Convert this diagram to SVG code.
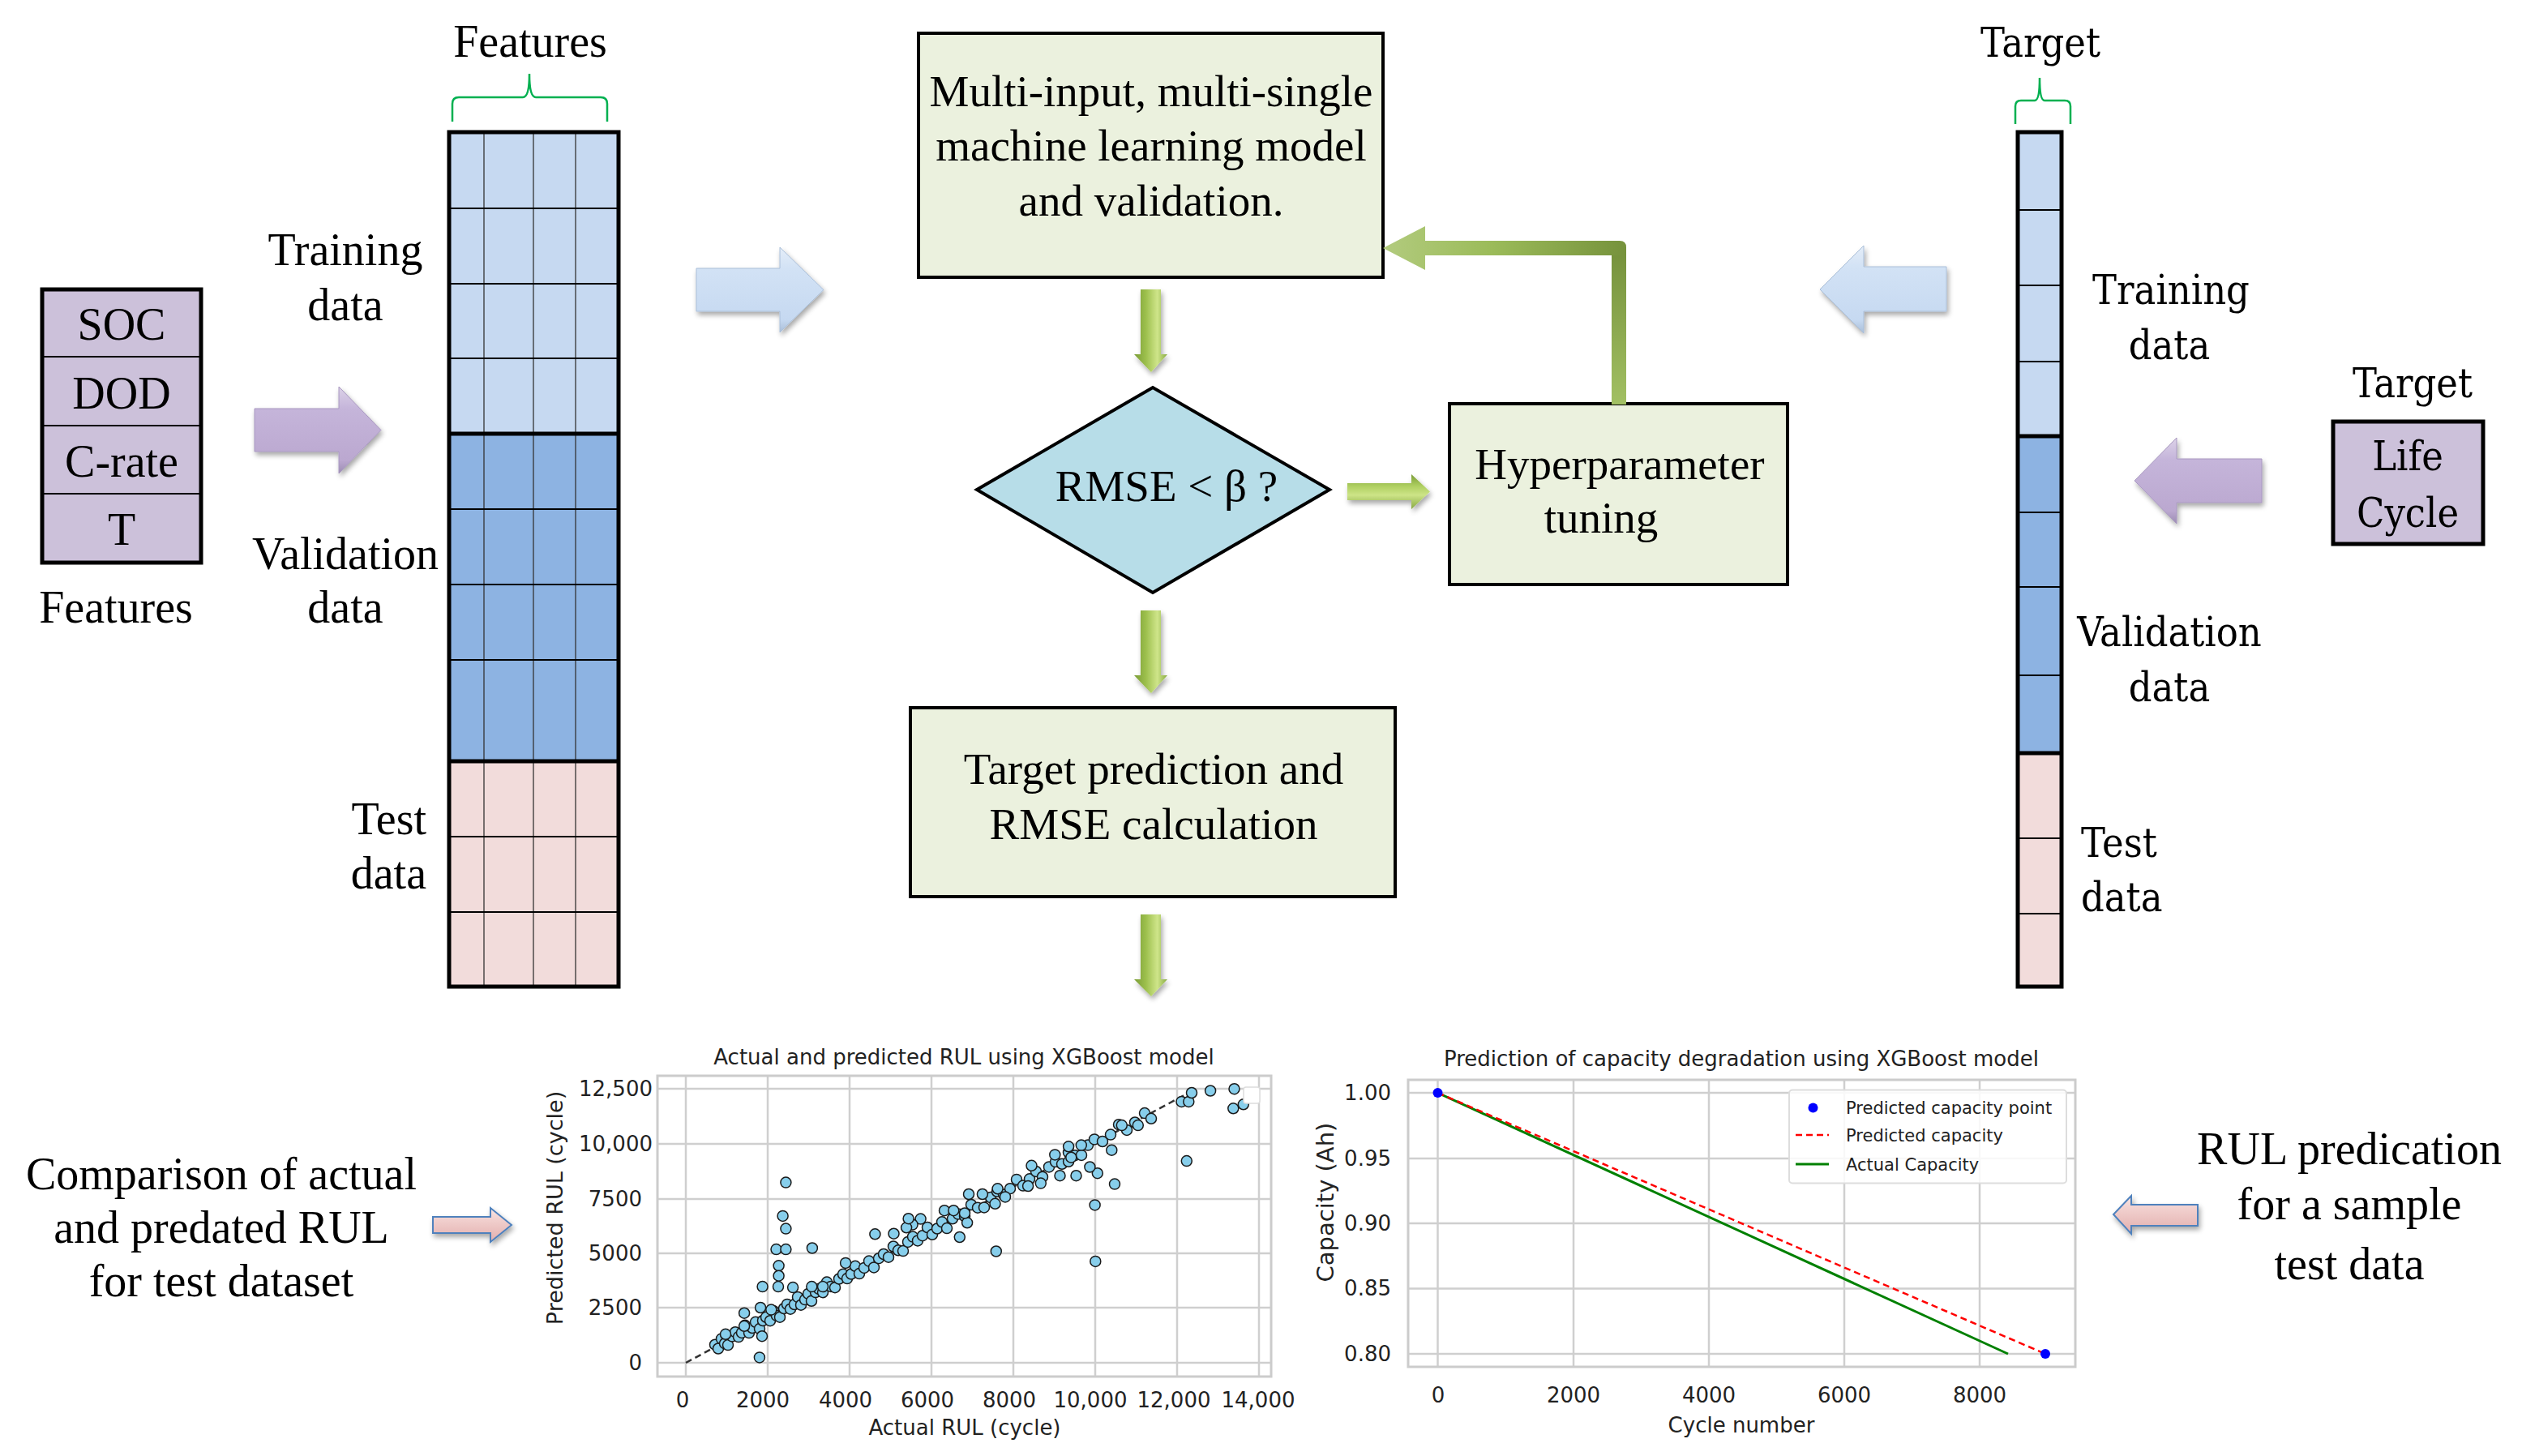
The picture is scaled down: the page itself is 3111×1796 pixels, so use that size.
<svg xmlns="http://www.w3.org/2000/svg" width="3111" height="1796" viewBox="0 0 3111 1796">
<style>
.tx{font-family:"Liberation Serif","Times New Roman",serif;font-size:56px;fill:#000;text-anchor:middle}
.bx{font-size:55px}
.rt{font-family:"DejaVu Serif",serif;font-stretch:condensed;font-size:50px;fill:#000;text-anchor:middle}
.ch{font-family:"DejaVu Sans",sans-serif;font-size:26px;fill:#222}
.mid{text-anchor:middle}
.end{text-anchor:end}
.box{fill:#EBF1DE;stroke:#000;stroke-width:4}
.pbox{fill:#CCC1DA;stroke:#000;stroke-width:5}
.thin{stroke:#000;stroke-width:2}
.col{stroke:#333;stroke-width:1.3}
.thick{stroke:#000;stroke-width:5}
.frame{fill:none;stroke:#000;stroke-width:5}
.grid{stroke:#CFCFCF;stroke-width:2.5}
.pt{fill:#87CEEB;stroke:#1A1A1A;stroke-width:1.5}
.brace{fill:none;stroke:#00B050;stroke-width:2.5}
</style>
<defs>
<linearGradient id="gV" x1="0" y1="0" x2="1" y2="0">
<stop offset="0" stop-color="#7A9C36"/><stop offset="0.35" stop-color="#9CBF4C"/><stop offset="0.7" stop-color="#CFE58A"/><stop offset="1" stop-color="#88AB42"/>
</linearGradient>
<linearGradient id="gH" x1="0" y1="0" x2="0" y2="1">
<stop offset="0" stop-color="#7A9C36"/><stop offset="0.35" stop-color="#B0D062"/><stop offset="0.6" stop-color="#CDE487"/><stop offset="1" stop-color="#86A842"/>
</linearGradient>
<linearGradient id="fbH" x1="0" y1="0" x2="1" y2="0">
<stop offset="0" stop-color="#B2CB7E"/><stop offset="0.45" stop-color="#9BBB59"/><stop offset="1" stop-color="#76923C"/>
</linearGradient>
<linearGradient id="fbV" x1="0" y1="0" x2="0" y2="1">
<stop offset="0" stop-color="#76923C"/><stop offset="1" stop-color="#A2C063"/>
</linearGradient>
<linearGradient id="blue3d" x1="0" y1="0" x2="0" y2="1">
<stop offset="0" stop-color="#E4EDF8"/><stop offset="0.25" stop-color="#D2E2F5"/><stop offset="0.85" stop-color="#C6D9F1"/><stop offset="1" stop-color="#A9BED8"/>
</linearGradient>
<linearGradient id="purp3d" x1="0" y1="0" x2="0" y2="1">
<stop offset="0" stop-color="#DCD2E8"/><stop offset="0.25" stop-color="#C5B5DA"/><stop offset="0.85" stop-color="#BBA8D0"/><stop offset="1" stop-color="#9C8CB3"/>
</linearGradient>
<linearGradient id="pink3d" x1="0" y1="0" x2="0" y2="1">
<stop offset="0" stop-color="#F8E6E5"/><stop offset="0.3" stop-color="#F2D2D0"/><stop offset="1" stop-color="#E2AEAD"/>
</linearGradient>
<filter id="sh" x="-20%" y="-20%" width="140%" height="150%">
<feGaussianBlur in="SourceAlpha" stdDeviation="3"/>
<feOffset dx="2" dy="4" result="b"/>
<feComponentTransfer><feFuncA type="linear" slope="0.35"/></feComponentTransfer>
<feMerge><feMergeNode/><feMergeNode in="SourceGraphic"/></feMerge>
</filter>
</defs>
<rect width="3111" height="1796" fill="#FFFFFF"/>

<g id="input-features">
<rect class="pbox" x="52" y="357" width="196" height="337"/>
<line class="thin" x1="54" y1="440" x2="246" y2="440"/>
<line class="thin" x1="54" y1="525" x2="246" y2="525"/>
<line class="thin" x1="54" y1="609" x2="246" y2="609"/>
<text class="tx" x="150" y="419">SOC</text>
<text class="tx" x="150" y="504">DOD</text>
<text class="tx" x="150" y="588">C-rate</text>
<text class="tx" x="150" y="672">T</text>
<text class="tx" x="143" y="768">Features</text>
</g>

<g id="features-matrix">
<rect x="554" y="163" width="209" height="372" fill="#C6D9F1"/>
<rect x="554" y="535" width="209" height="404" fill="#8DB3E2"/>
<rect x="554" y="939" width="209" height="278" fill="#F2DCDB"/>
<line class="col" x1="597" y1="163" x2="597" y2="1217"/>
<line class="col" x1="658" y1="163" x2="658" y2="1217"/>
<line class="col" x1="710" y1="163" x2="710" y2="1217"/>
<line class="thin" x1="554" y1="257" x2="763" y2="257"/>
<line class="thin" x1="554" y1="350" x2="763" y2="350"/>
<line class="thin" x1="554" y1="442" x2="763" y2="442"/>
<line class="thin" x1="554" y1="628" x2="763" y2="628"/>
<line class="thin" x1="554" y1="721" x2="763" y2="721"/>
<line class="thin" x1="554" y1="814" x2="763" y2="814"/>
<line class="thin" x1="554" y1="1032" x2="763" y2="1032"/>
<line class="thin" x1="554" y1="1125" x2="763" y2="1125"/>
<line class="thick" x1="554" y1="535" x2="763" y2="535"/>
<line class="thick" x1="554" y1="939" x2="763" y2="939"/>
<rect class="frame" x="554" y="163" width="209" height="1054"/>
<path class="brace" d="M558,150 L558,128 Q558,120 566,120 L645,120 Q653,120 653,91 Q653,120 661,120 L741,120 Q749,120 749,128 L749,150"/>
<text class="tx" x="654" y="70">Features</text>
<text class="tx" x="426" y="327">Training</text>
<text class="tx" x="426" y="395">data</text>
<text class="tx" x="426" y="702">Validation</text>
<text class="tx" x="426" y="768">data</text>
<text class="tx end" x="526" y="1029">Test</text>
<text class="tx end" x="526" y="1096">data</text>
</g>

<g id="model-box">
<rect class="box" x="1133" y="41" width="573" height="301"/>
<text class="tx bx" x="1420" y="131">Multi-input, multi-single</text>
<text class="tx bx" x="1420" y="198">machine learning model</text>
<text class="tx bx" x="1420" y="266">and validation.</text>
</g>

<g id="rmse-decision">
<polygon points="1205,604 1422,478 1640,604 1422,731" fill="#B7DDE8" stroke="#000" stroke-width="4" stroke-linejoin="miter"/>
<text class="tx bx" x="1439" y="618">RMSE &lt; β ?</text>
</g>

<g id="hyperparameter-box">
<rect class="box" x="1788" y="498" width="417" height="223"/>
<text class="tx bx" x="1998" y="591">Hyperparameter</text>
<text class="tx bx" x="1975" y="657">tuning</text>
</g>

<g id="prediction-box">
<rect class="box" x="1123" y="873" width="598" height="233"/>
<text class="tx bx" x="1423" y="967">Target prediction and</text>
<text class="tx bx" x="1423" y="1035">RMSE calculation</text>
</g>

<g id="target-matrix">
<rect x="2489" y="163" width="54" height="375" fill="#C6D9F1"/>
<rect x="2489" y="538" width="54" height="391" fill="#8DB3E2"/>
<rect x="2489" y="929" width="54" height="288" fill="#F2DCDB"/>
<line class="thin" x1="2489" y1="259" x2="2543" y2="259"/>
<line class="thin" x1="2489" y1="352" x2="2543" y2="352"/>
<line class="thin" x1="2489" y1="446" x2="2543" y2="446"/>
<line class="thin" x1="2489" y1="632" x2="2543" y2="632"/>
<line class="thin" x1="2489" y1="724" x2="2543" y2="724"/>
<line class="thin" x1="2489" y1="833" x2="2543" y2="833"/>
<line class="thin" x1="2489" y1="1034" x2="2543" y2="1034"/>
<line class="thin" x1="2489" y1="1127" x2="2543" y2="1127"/>
<line class="thick" x1="2489" y1="538" x2="2543" y2="538"/>
<line class="thick" x1="2489" y1="929" x2="2543" y2="929"/>
<rect class="frame" x="2489" y="163" width="54" height="1054"/>
<path class="brace" d="M2486,153 L2486,131 Q2486,124 2493,124 L2510,124 Q2516,124 2516,96 Q2516,124 2522,124 L2547,124 Q2554,124 2554,131 L2554,153"/>
<text class="rt" x="2517" y="70">Target</text>
<text class="rt" x="2678" y="375">Training</text>
<text class="rt" x="2676" y="443">data</text>
<text class="rt" x="2676" y="797">Validation</text>
<text class="rt" x="2676" y="865">data</text>
<text class="rt" x="2567" y="1057" style="text-anchor:start">Test</text>
<text class="rt" x="2567" y="1124" style="text-anchor:start">data</text>
</g>

<g id="target-life-cycle">
<text class="rt" x="2976" y="490">Target</text>
<rect class="pbox" x="2878" y="520" width="185" height="151"/>
<text class="rt" x="2970" y="580">Life</text>
<text class="rt" x="2970" y="650">Cycle</text>
</g>

<g id="rul-scatter-chart">
<rect x="811" y="1327" width="757" height="371" fill="#FFFFFF"/>
<g class="grid">
<line x1="846" y1="1327" x2="846" y2="1698"/><line x1="947" y1="1327" x2="947" y2="1698"/>
<line x1="1048" y1="1327" x2="1048" y2="1698"/><line x1="1149" y1="1327" x2="1149" y2="1698"/>
<line x1="1250" y1="1327" x2="1250" y2="1698"/><line x1="1351" y1="1327" x2="1351" y2="1698"/>
<line x1="1452" y1="1327" x2="1452" y2="1698"/><line x1="1553" y1="1327" x2="1553" y2="1698"/>
<line x1="811" y1="1343" x2="1568" y2="1343"/><line x1="811" y1="1411" x2="1568" y2="1411"/>
<line x1="811" y1="1479" x2="1568" y2="1479"/><line x1="811" y1="1546" x2="1568" y2="1546"/>
<line x1="811" y1="1613" x2="1568" y2="1613"/><line x1="811" y1="1681" x2="1568" y2="1681"/>
</g>
<rect x="811" y="1327" width="757" height="371" fill="none" stroke="#CCCCCC" stroke-width="3"/>
<line x1="846" y1="1681" x2="1470" y2="1346" stroke="#333" stroke-width="2.5" stroke-dasharray="8 5"/>
<g class="pt">
<circle cx="882" cy="1658.7" r="6.5"/><circle cx="886" cy="1663.5" r="6.5"/><circle cx="890" cy="1651.4" r="6.5"/><circle cx="894" cy="1657.2" r="6.5"/><circle cx="898" cy="1659.1" r="6.5"/><circle cx="903" cy="1648.4" r="6.5"/><circle cx="907" cy="1643.2" r="6.5"/><circle cx="911" cy="1649.1" r="6.5"/><circle cx="915" cy="1643.9" r="6.5"/><circle cx="919" cy="1634.8" r="6.5"/><circle cx="924" cy="1644.1" r="6.5"/><circle cx="928" cy="1638" r="6.5"/><circle cx="932" cy="1630.8" r="6.5"/><circle cx="937" cy="1639.1" r="6.5"/><circle cx="941" cy="1629" r="6.5"/><circle cx="945" cy="1624.8" r="6.5"/><circle cx="950" cy="1629.2" r="6.5"/><circle cx="954" cy="1617" r="6.5"/><circle cx="958" cy="1622.9" r="6.5"/><circle cx="962" cy="1624.7" r="6.5"/><circle cx="967" cy="1614" r="6.5"/><circle cx="971" cy="1608.9" r="6.5"/><circle cx="975" cy="1614.7" r="6.5"/><circle cx="980" cy="1609" r="6.5"/><circle cx="984" cy="1599.9" r="6.5"/><circle cx="988" cy="1609.7" r="6.5"/><circle cx="993" cy="1603.1" r="6.5"/><circle cx="997" cy="1595.9" r="6.5"/><circle cx="1001" cy="1604.8" r="6.5"/><circle cx="1006" cy="1594.1" r="6.5"/><circle cx="1010" cy="1589.9" r="6.5"/><circle cx="1015" cy="1594.2" r="6.5"/><circle cx="1020" cy="1581.6" r="6.5"/><circle cx="1025" cy="1586.9" r="6.5"/><circle cx="1030" cy="1588.2" r="6.5"/><circle cx="1035" cy="1577.5" r="6.5"/><circle cx="1040" cy="1571.8" r="6.5"/><circle cx="1045" cy="1577.1" r="6.5"/><circle cx="1050" cy="1571.5" r="6.5"/><circle cx="1055" cy="1561.8" r="6.5"/><circle cx="1060" cy="1571.1" r="6.5"/><circle cx="1066" cy="1563.9" r="6.5"/><circle cx="1072" cy="1555.6" r="6.5"/><circle cx="1078" cy="1563.4" r="6.5"/><circle cx="1084" cy="1552.2" r="6.5"/><circle cx="1090" cy="1547" r="6.5"/><circle cx="1096" cy="1550.7" r="6.5"/><circle cx="1102" cy="1537.5" r="6.5"/><circle cx="1108" cy="1542.3" r="6.5"/><circle cx="1114" cy="1543.1" r="6.5"/><circle cx="1120" cy="1531.9" r="6.5"/><circle cx="1126" cy="1525.6" r="6.5"/><circle cx="1132" cy="1530.4" r="6.5"/><circle cx="1138" cy="1524.2" r="6.5"/><circle cx="1144" cy="1514" r="6.5"/><circle cx="1150" cy="1522.8" r="6.5"/><circle cx="1156" cy="1515.5" r="6.5"/><circle cx="1162" cy="1507.3" r="6.5"/><circle cx="1168" cy="1515.1" r="6.5"/><circle cx="1175" cy="1503.3" r="6.5"/><circle cx="1182" cy="1497.6" r="6.5"/><circle cx="1190" cy="1500.3" r="6.5"/><circle cx="1198" cy="1486" r="6.5"/><circle cx="1206" cy="1489.7" r="6.5"/><circle cx="1214" cy="1489.4" r="6.5"/><circle cx="1222" cy="1477.1" r="6.5"/><circle cx="1230" cy="1469.8" r="6.5"/><circle cx="1238" cy="1473.5" r="6.5"/><circle cx="1246" cy="1466.2" r="6.5"/><circle cx="1254" cy="1454.9" r="6.5"/><circle cx="1262" cy="1462.6" r="6.5"/><circle cx="1270" cy="1454.3" r="6.5"/><circle cx="1278" cy="1445" r="6.5"/><circle cx="1286" cy="1451.7" r="6.5"/><circle cx="1294" cy="1439.4" r="6.5"/><circle cx="1302" cy="1433.1" r="6.5"/><circle cx="1310" cy="1435.8" r="6.5"/><circle cx="1318" cy="1421.5" r="6.5"/><circle cx="1326" cy="1425.2" r="6.5"/><circle cx="1334" cy="1424.9" r="6.5"/><circle cx="1342" cy="1412.6" r="6.5"/><circle cx="1350" cy="1405.4" r="6.5"/><circle cx="1360" cy="1408" r="6.5"/><circle cx="1370" cy="1399.6" r="6.5"/><circle cx="1380" cy="1387.2" r="6.5"/><circle cx="1390" cy="1393.9" r="6.5"/><circle cx="1400" cy="1384.5" r="6.5"/><circle cx="1412" cy="1373.1" r="6.5"/><circle cx="1420" cy="1379.8" r="6.5"/>
<circle cx="969.4" cy="1458.6" r="6.5"/><circle cx="965.6" cy="1499.9" r="6.5"/><circle cx="969.4" cy="1515.6" r="6.5"/><circle cx="957.5" cy="1541.1" r="6.5"/><circle cx="969.4" cy="1541.1" r="6.5"/><circle cx="960.6" cy="1561.3" r="6.5"/><circle cx="960.6" cy="1573.7" r="6.5"/><circle cx="960" cy="1587.1" r="6.5"/><circle cx="940.6" cy="1587.1" r="6.5"/><circle cx="978.1" cy="1588.1" r="6.5"/><circle cx="1001.9" cy="1539.5" r="6.5"/><circle cx="918.1" cy="1619.7" r="6.5"/><circle cx="938.1" cy="1613" r="6.5"/><circle cx="940" cy="1648.2" r="6.5"/><circle cx="936.9" cy="1674.4" r="6.5"/><circle cx="1079.4" cy="1522.3" r="6.5"/><circle cx="1102.5" cy="1521.7" r="6.5"/><circle cx="1135.6" cy="1503.6" r="6.5"/><circle cx="1125.6" cy="1510.6" r="6.5"/><circle cx="1118.1" cy="1514.3" r="6.5"/><circle cx="1043.1" cy="1557.9" r="6.5"/><circle cx="1228.8" cy="1543.5" r="6.5"/><circle cx="1350.6" cy="1486.4" r="6.5"/><circle cx="1351.3" cy="1555.9" r="6.5"/><circle cx="1463.8" cy="1432.1" r="6.5"/><circle cx="1375" cy="1460.6" r="6.5"/><circle cx="1371.3" cy="1418.7" r="6.5"/><circle cx="1318.1" cy="1414.3" r="6.5"/><circle cx="1333.8" cy="1412.6" r="6.5"/><circle cx="1307.5" cy="1450.2" r="6.5"/><circle cx="1327.5" cy="1450.2" r="6.5"/><circle cx="1353.8" cy="1447.2" r="6.5"/><circle cx="1344.4" cy="1439.5" r="6.5"/><circle cx="1301.3" cy="1424.4" r="6.5"/><circle cx="1272.5" cy="1437.8" r="6.5"/><circle cx="1283.8" cy="1459.6" r="6.5"/><circle cx="1195" cy="1473" r="6.5"/><circle cx="1403.8" cy="1388.1" r="6.5"/><circle cx="1383.8" cy="1388.1" r="6.5"/><circle cx="1457.5" cy="1358.9" r="6.5"/><circle cx="1466.3" cy="1358.9" r="6.5"/><circle cx="1470" cy="1348" r="6.5"/><circle cx="1493.1" cy="1345.5" r="6.5"/><circle cx="1522.5" cy="1343.2" r="6.5"/><circle cx="1521.3" cy="1367.3" r="6.5"/><circle cx="1533.8" cy="1362.3" r="6.5"/><circle cx="1165" cy="1493.2" r="6.5"/><circle cx="1176.3" cy="1493.2" r="6.5"/><circle cx="1183.8" cy="1526" r="6.5"/><circle cx="1193.1" cy="1508.3" r="6.5"/><circle cx="1190" cy="1496.5" r="6.5"/><circle cx="1227.5" cy="1484.8" r="6.5"/><circle cx="1211.9" cy="1473" r="6.5"/><circle cx="1240" cy="1476.4" r="6.5"/><circle cx="1230.6" cy="1466.3" r="6.5"/><circle cx="1268.1" cy="1463" r="6.5"/><circle cx="1318.1" cy="1432.8" r="6.5"/><circle cx="1321.3" cy="1427.7" r="6.5"/><circle cx="1120.6" cy="1503.2" r="6.5"/><circle cx="1001.3" cy="1587.1" r="6.5"/><circle cx="1015" cy="1587.1" r="6.5"/><circle cx="918.1" cy="1635.8" r="6.5"/><circle cx="951.3" cy="1615.6" r="6.5"/><circle cx="895" cy="1645.8" r="6.5"/>
</g>
<rect x="1534" y="1341" width="20" height="20" rx="3" fill="#FFFFFF" stroke="#DDDDDD" stroke-width="1.5"/>
<text class="ch mid" x="1189" y="1313">Actual and predicted RUL using XGBoost model</text>
<text class="ch end" x="805" y="1352">12,500</text>
<text class="ch end" x="805" y="1420">10,000</text>
<text class="ch end" x="792" y="1488">7500</text>
<text class="ch end" x="792" y="1555">5000</text>
<text class="ch end" x="792" y="1622">2500</text>
<text class="ch end" x="792" y="1690">0</text>
<text class="ch mid" x="842" y="1736">0</text>
<text class="ch mid" x="941" y="1736">2000</text>
<text class="ch mid" x="1043" y="1736">4000</text>
<text class="ch mid" x="1144" y="1736">6000</text>
<text class="ch mid" x="1245" y="1736">8000</text>
<text class="ch mid" x="1345" y="1736">10,000</text>
<text class="ch mid" x="1448" y="1736">12,000</text>
<text class="ch mid" x="1552" y="1736">14,000</text>
<text class="ch mid" x="1190" y="1770">Actual RUL (cycle)</text>
<text class="ch mid" style="font-size:27px" transform="translate(694,1490) rotate(-90)">Predicted RUL (cycle)</text>
</g>

<g id="capacity-chart">
<rect x="1737" y="1332" width="823" height="354" fill="#FFFFFF"/>
<g class="grid">
<line x1="1773.5" y1="1332" x2="1773.5" y2="1686"/><line x1="1941" y1="1332" x2="1941" y2="1686"/>
<line x1="2108" y1="1332" x2="2108" y2="1686"/><line x1="2275" y1="1332" x2="2275" y2="1686"/>
<line x1="2442" y1="1332" x2="2442" y2="1686"/>
<line x1="1737" y1="1348" x2="2560" y2="1348"/><line x1="1737" y1="1429" x2="2560" y2="1429"/>
<line x1="1737" y1="1509" x2="2560" y2="1509"/><line x1="1737" y1="1589.5" x2="2560" y2="1589.5"/>
<line x1="1737" y1="1670" x2="2560" y2="1670"/>
</g>
<rect x="1737" y="1332" width="823" height="354" fill="none" stroke="#CCCCCC" stroke-width="3"/>
<line x1="1773.5" y1="1348" x2="2477" y2="1670" stroke="#008000" stroke-width="3"/>
<line x1="1773.5" y1="1348" x2="2523" y2="1670" stroke="#FF0000" stroke-width="2.5" stroke-dasharray="8 5"/>
<circle cx="1773.5" cy="1348" r="6" fill="#0000FF"/>
<circle cx="2523" cy="1670" r="6" fill="#0000FF"/>
<rect x="2207" y="1344.5" width="342" height="115" rx="4" fill="#FFFFFF" fill-opacity="0.85" stroke="#DDDDDD" stroke-width="2"/>
<circle cx="2236.5" cy="1366.6" r="6" fill="#0000FF"/>
<line x1="2215" y1="1400" x2="2256" y2="1400" stroke="#FF0000" stroke-width="2.5" stroke-dasharray="8 5"/>
<line x1="2215" y1="1436" x2="2256" y2="1436" stroke="#008000" stroke-width="3"/>
<text class="ch" style="font-size:21px" x="2277" y="1374">Predicted capacity point</text>
<text class="ch" style="font-size:21px" x="2277" y="1408">Predicted capacity</text>
<text class="ch" style="font-size:21px" x="2277" y="1444">Actual Capacity</text>
<text class="ch mid" x="2148" y="1315">Prediction of capacity degradation using XGBoost model</text>
<text class="ch end" x="1716" y="1357">1.00</text>
<text class="ch end" x="1716" y="1438">0.95</text>
<text class="ch end" x="1716" y="1518">0.90</text>
<text class="ch end" x="1716" y="1598">0.85</text>
<text class="ch end" x="1716" y="1679">0.80</text>
<text class="ch mid" x="1774" y="1730">0</text>
<text class="ch mid" x="1941" y="1730">2000</text>
<text class="ch mid" x="2108" y="1730">4000</text>
<text class="ch mid" x="2275" y="1730">6000</text>
<text class="ch mid" x="2442" y="1730">8000</text>
<text class="ch mid" x="2148" y="1767">Cycle number</text>
<text class="ch mid" style="font-size:29px" transform="translate(1645,1483) rotate(-90)">Capacity (Ah)</text>
</g>

<g id="comparison-note">
<text class="tx" x="273" y="1467">Comparison of actual</text>
<text class="tx" x="273" y="1533">and predated RUL</text>
<text class="tx" x="273" y="1599">for test dataset</text>
</g>

<g id="rul-sample-note">
<text class="tx" x="2898" y="1436">RUL predication</text>
<text class="tx" x="2898" y="1504">for a sample</text>
<text class="tx" x="2898" y="1578">test data</text>
</g>

<g id="connectors">
<polygon points="314,504 418,504 418,477 470,530.5 418,584 418,557 314,557" fill="url(#purp3d)" stroke="#A898C0" stroke-width="1" filter="url(#sh)"/>
<polygon points="859,331 962,331 962,305 1016,357.5 962,410 962,384 859,384" fill="url(#blue3d)" stroke="#A9BED8" stroke-width="1" filter="url(#sh)"/>
<polygon points="2401,329 2299,329 2299,303 2245,357 2299,411 2299,384 2401,384" fill="url(#blue3d)" stroke="#A9BED8" stroke-width="1" filter="url(#sh)"/>
<polygon points="2790,566 2685,566 2685,540 2633,593 2685,646 2685,620 2790,620" fill="url(#purp3d)" stroke="#A898C0" stroke-width="1" filter="url(#sh)"/>
<polygon points="1407,357 1432,357 1432,437 1440,437 1420,459 1399,437 1407,437" fill="url(#gV)" filter="url(#sh)"/>
<polygon points="1407,753 1432,753 1432,833 1440,833 1420,855 1399,833 1407,833" fill="url(#gV)" filter="url(#sh)"/>
<polygon points="1407,1128 1432,1128 1432,1208 1440,1208 1420,1229 1399,1208 1407,1208" fill="url(#gV)" filter="url(#sh)"/>
<polygon points="1662,596 1741,596 1741,585 1764,606.5 1741,628 1741,617 1662,617" fill="url(#gH)" filter="url(#sh)"/>
<path d="M1988,499 L1988,312 L2006,312 L2006,499 Z" fill="url(#fbV)"/>
<path d="M1706,306 L1758,279 L1758,297 L1998,297 Q2006,297 2006,305 L2006,315 L1758,315 L1758,333 Z" fill="url(#fbH)"/>
<polygon points="534,1501 605,1501 605,1490 631,1511 605,1532 605,1521 534,1521" fill="url(#pink3d)" stroke="#4F81BD" stroke-width="2" filter="url(#sh)"/>
<polygon points="2711,1486 2629,1486 2629,1475 2607,1498 2629,1522 2629,1512 2711,1512" fill="url(#pink3d)" stroke="#4F81BD" stroke-width="2" filter="url(#sh)"/>
</g>
</svg>
